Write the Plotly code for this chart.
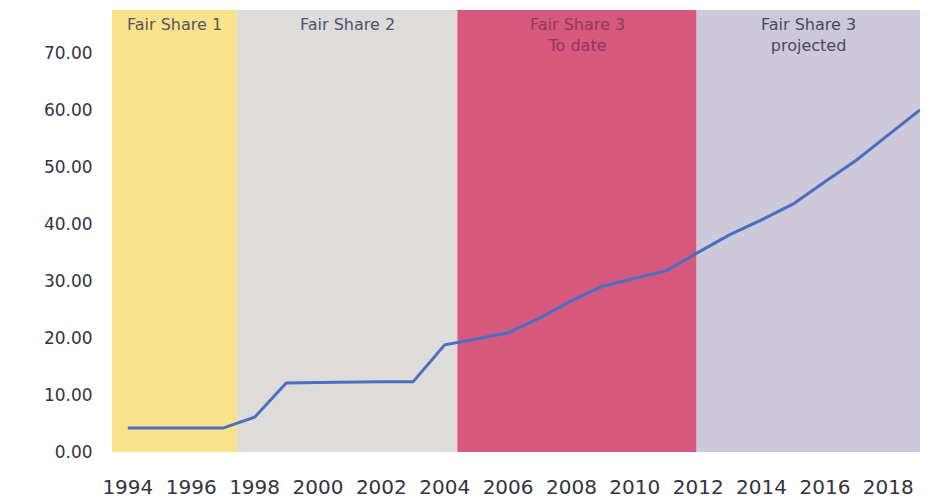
import plotly.graph_objects as go

# ---- data ----
years = list(range(1994, 2020))
values = [4.2, 4.2, 4.2, 4.2, 6.1, 12.1, 12.2, 12.3, 12.3, 12.3,
          18.8, 19.8, 20.9, 23.5, 26.5, 29.1, 30.5, 31.8, 35.0, 38.1,
          40.7, 43.5, 47.4, 51.2, 55.6, 60.0]

band_labels = ["Fair Share 1", "Fair Share 2", "Fair Share 3<br>To date", "Fair Share 3<br>projected"]
band_starts = [1993.5, 1997.45, 2004.4, 2011.95]
band_ends = [1997.45, 2004.4, 2011.95, 2019.0]
band_colors = ["#F8E38C", "#DEDBDB", "#D6587C", "#CDC8DA"]
band_text_colors = ["#55555e", "#4d5268", "#8f3a5c", "#474a60"]

tick_years = list(range(1994, 2019, 2))
y_ticks = [0, 10, 20, 30, 40, 50, 60, 70]

fig = go.Figure()

shapes = []
annotations = []
for s, e, c, lab, tc in zip(band_starts, band_ends, band_colors, band_labels, band_text_colors):
    shapes.append(dict(type="rect", xref="x", yref="y", x0=s, x1=e, y0=0, y1=77.5,
                       fillcolor=c, line=dict(width=0), layer="below"))
    annotations.append(dict(x=(s + e) / 2, y=1, xref="x", yref="paper", text=lab,
                            showarrow=False, yanchor="top", yshift=-3,
                            font=dict(family="DejaVu Sans", size=16, color=tc)))

fig.add_trace(go.Scatter(x=years, y=values, mode="lines",
                         line=dict(color="#4A6EC0", width=3), showlegend=False,
                         hoverinfo="x+y"))

fig.update_layout(
    width=924, height=495,
    autosize=False,
    margin=dict(l=104, r=12, t=2, b=51),
    paper_bgcolor="white", plot_bgcolor="white",
    shapes=shapes, annotations=annotations,
    xaxis=dict(range=[1993.5, 2019.0], tickvals=tick_years,
               ticktext=[str(y) for y in tick_years],
               showgrid=False, zeroline=False, showline=False, automargin=False,
               ticks="outside", ticklen=17, tickcolor="rgba(0,0,0,0)",
               tickfont=dict(family="DejaVu Sans", size=20, color="#333340")),
    yaxis=dict(range=[0, 77.5], tickvals=y_ticks,
               ticktext=[f"{v:.2f}" for v in y_ticks],
               showgrid=False, zeroline=False, showline=False, automargin=False,
               ticks="outside", ticklen=15, tickcolor="rgba(0,0,0,0)",
               tickfont=dict(family="DejaVu Sans", size=17, color="#333340")),
)

fig.write_html("out.html")
